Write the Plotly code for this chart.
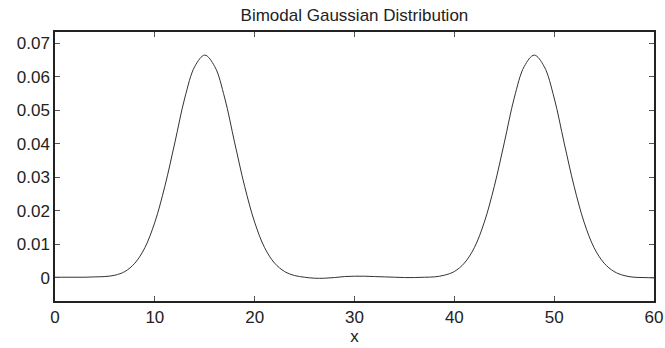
import plotly.graph_objects as go

x_vals = list(range(0, 61))
density = [
    0.0002, 0.0002, 0.0002, 0.0002, 0.0003, 0.0004, 0.0008, 0.0019, 0.0044, 0.0090,
    0.0166, 0.0273, 0.0403, 0.0537, 0.0631, 0.0665, 0.0631, 0.0537, 0.0403, 0.0273,
    0.0166, 0.0090, 0.0044, 0.0019, 0.0007, 0.0002, -0.0001, -0.0001, 0.0001, 0.0004,
    0.0005, 0.0005, 0.0004, 0.0003, 0.0002, 0.0001, 0.0001, 0.0002, 0.0003, 0.0008,
    0.0019, 0.0044, 0.0090, 0.0166, 0.0273, 0.0403, 0.0537, 0.0631, 0.0665, 0.0631,
    0.0537, 0.0403, 0.0273, 0.0166, 0.0090, 0.0044, 0.0019, 0.0007, 0.0002, 0.0001,
    0.0000,
]
x_ticks = [0, 10, 20, 30, 40, 50, 60]
y_ticks = [0, 0.01, 0.02, 0.03, 0.04, 0.05, 0.06, 0.07]
y_tick_labels = ["0", "0.01", "0.02", "0.03", "0.04", "0.05", "0.06", "0.07"]

FONT = "Liberation Sans, Arial, sans-serif"

fig = go.Figure()
fig.add_trace(go.Scatter(
    x=x_vals, y=density, mode="lines",
    line=dict(color="#333333", width=1, shape="spline", smoothing=1.0),
    showlegend=False, hoverinfo="skip",
))

axis_common = dict(
    showline=True, linecolor="#222222", linewidth=1.5, mirror="ticks",
    ticks="inside", ticklen=5, tickwidth=1, tickcolor="#555555",
    showgrid=False, zeroline=False, automargin=False,
    tickfont=dict(family=FONT, size=17, color="#222222"),
)

fig.update_layout(
    width=665, height=348,
    margin=dict(l=55, r=11, t=32, b=47),
    paper_bgcolor="white", plot_bgcolor="white",
    title=dict(text="Bimodal Gaussian Distribution", x=0.533, xanchor="center",
               y=0.957, yanchor="middle",
               font=dict(family=FONT, size=17, color="#222222")),
    xaxis=dict(range=[0, 60], tickvals=x_ticks,
               title=dict(text="x", standoff=4,
                          font=dict(family=FONT, size=17, color="#222222")),
               **axis_common),
    yaxis=dict(range=[-0.0069, 0.0734], tickvals=y_ticks, ticktext=y_tick_labels,
               **axis_common),
)

fig.write_html("out.html")
